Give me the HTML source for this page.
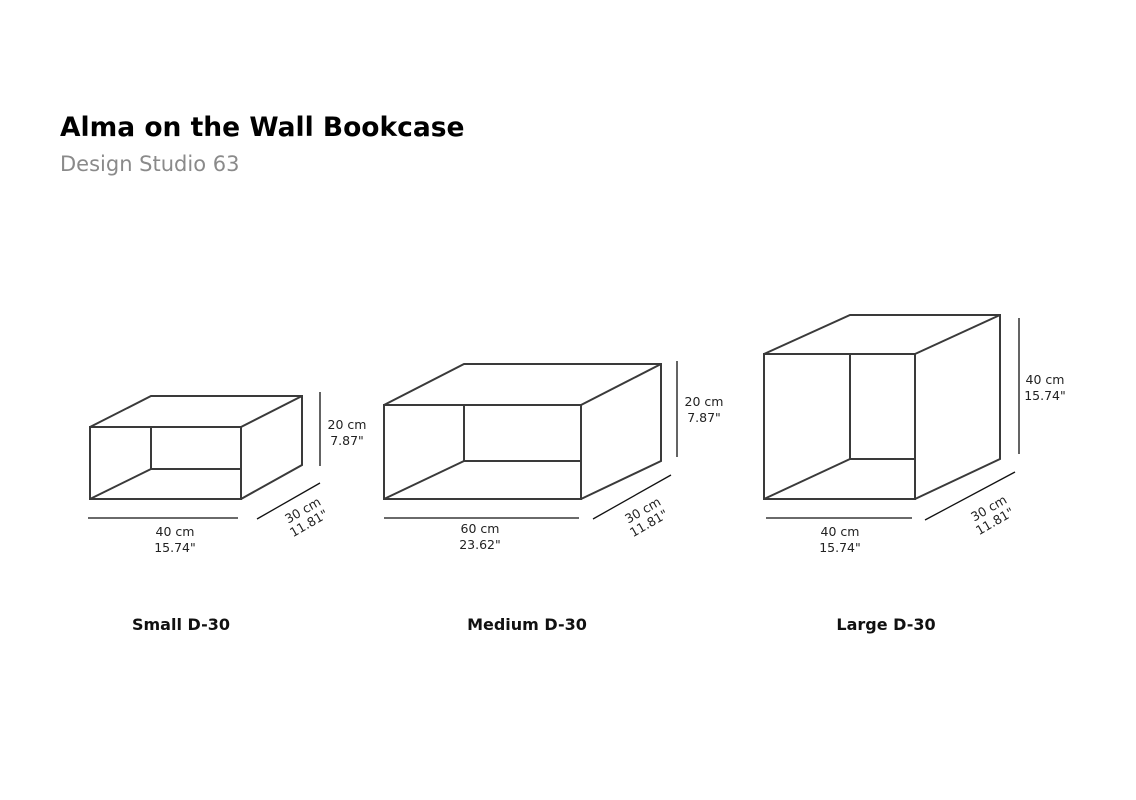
<!DOCTYPE html>
<html><head><meta charset="utf-8"><style>
html,body{margin:0;padding:0;background:#fff;width:1136px;height:800px;overflow:hidden}
svg{display:block}
text{font-family:"DejaVu Sans","Liberation Sans",sans-serif}
.t{font-size:12.5px;fill:#222}
.b{font-size:16px;font-weight:bold;fill:#111}
</style></head><body>
<svg width="1136" height="800" viewBox="0 0 1136 800" xmlns="http://www.w3.org/2000/svg">
<text x="60" y="136" style="font-family:'DejaVu Sans','Liberation Sans',sans-serif;font-weight:bold;font-size:26.5px;fill:#000">Alma on the Wall Bookcase</text>
<text x="60" y="171" style="font-size:21px;fill:#8a8a8a">Design Studio 63</text>

<g fill="none" stroke="#3a3a3a" stroke-width="2">
<rect x="90" y="427" width="151" height="72"/>
<polyline points="90,427 151,396 302,396 302,465 241,499"/>
<line x1="241" y1="427" x2="302" y2="396"/>
<polyline points="151,427 151,469 241,469"/>
<line x1="151" y1="469" x2="90" y2="499"/>
<rect x="384" y="405" width="197" height="94"/>
<polyline points="384,405 464,364 661,364 661,461 581,499"/>
<line x1="581" y1="405" x2="661" y2="364"/>
<polyline points="464,405 464,461 581,461"/>
<line x1="464" y1="461" x2="384" y2="499"/>
<rect x="764" y="354" width="151" height="145"/>
<polyline points="764,354 850,315 1000,315 1000,459 915,499"/>
<line x1="915" y1="354" x2="1000" y2="315"/>
<polyline points="850,354 850,459 915,459"/>
<line x1="850" y1="459" x2="764" y2="499"/>
</g>
<g stroke="#111" stroke-width="1.3">
<line x1="320" y1="392" x2="320" y2="466"/>
<line x1="88" y1="518" x2="238" y2="518"/>
<line x1="257" y1="519" x2="320" y2="483"/>
<line x1="677" y1="361" x2="677" y2="457"/>
<line x1="384" y1="518" x2="579" y2="518"/>
<line x1="593" y1="519" x2="671" y2="475"/>
<line x1="1019" y1="318" x2="1019" y2="454"/>
<line x1="766" y1="518" x2="912" y2="518"/>
<line x1="925" y1="520" x2="1015" y2="472"/>
</g>
<g class="t" text-anchor="middle">
<text x="347" y="429">20 cm</text><text x="347" y="445">7.87"</text>
<text x="175" y="536">40 cm</text><text x="175" y="552">15.74"</text>
<text transform="translate(305,514) rotate(-30)">30 cm</text>
<text transform="translate(311,527) rotate(-30)">11.81"</text>

<text x="704" y="406">20 cm</text><text x="704" y="422">7.87"</text>
<text x="480" y="533">60 cm</text><text x="480" y="549">23.62"</text>
<text transform="translate(645,514) rotate(-30)">30 cm</text>
<text transform="translate(651,527) rotate(-30)">11.81"</text>

<text x="1045" y="384">40 cm</text><text x="1045" y="400">15.74"</text>
<text x="840" y="536">40 cm</text><text x="840" y="552">15.74"</text>
<text transform="translate(991,512) rotate(-30)">30 cm</text>
<text transform="translate(997,525) rotate(-30)">11.81"</text>
</g>
<g class="b" text-anchor="middle">
<text x="181" y="630">Small D-30</text>
<text x="527" y="630">Medium D-30</text>
<text x="886" y="630">Large D-30</text>
</g>
</svg>
</body></html>
